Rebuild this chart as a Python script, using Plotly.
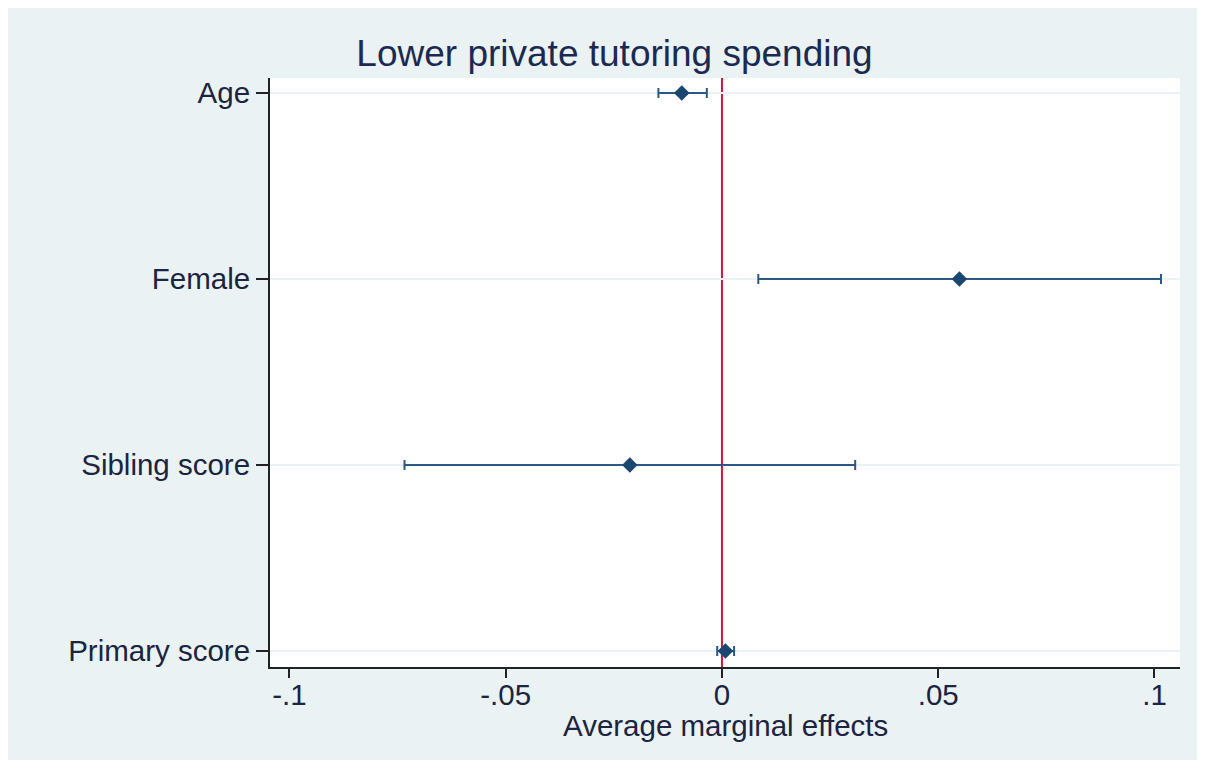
import plotly.graph_objects as go

# ---- data ----
categories = ["Age", "Female", "Sibling score", "Primary score"]
estimates = [-0.0093, 0.0549, -0.0213, 0.0008]
ci_lower = [-0.0147, 0.0084, -0.0734, -0.0011]
ci_upper = [-0.0035, 0.1015, 0.0308, 0.0028]
x_tick_vals = [-0.1, -0.05, 0, 0.05, 0.1]
x_tick_text = ["-.1", "-.05", "0", ".05", ".1"]
title_text = "Lower private tutoring spending"
x_title = "Average marginal effects"

# y positions: first category on top
y_pos = list(range(len(categories), 0, -1))

plus = [u - e for u, e in zip(ci_upper, estimates)]
minus = [e - l for e, l in zip(estimates, ci_lower)]

MARK = "#1a476f"
BAR = "#2c5887"
TXT = "#1b2440"
TITLE = "#1c2a52"
BG = "#eaf2f3"

fig = go.Figure()
fig.add_trace(go.Scatter(
    x=estimates, y=y_pos, mode="markers",
    marker=dict(symbol="diamond", size=12, color=MARK),
    error_x=dict(type="data", symmetric=False, array=plus, arrayminus=minus,
                 color=BAR, thickness=2, width=5),
    showlegend=False, hoverinfo="x+y",
))

W, H = 1197, 752
L, R, T, B = 262, 25, 70, 93
ph = H - T - B

fig.update_layout(
    width=W, height=H,
    margin=dict(l=L, r=R, t=T, b=B, pad=0),
    paper_bgcolor=BG, plot_bgcolor="white",
    font=dict(family="Liberation Sans, Arial, sans-serif", size=29.5, color=TXT),
    title=dict(text=title_text, font=dict(size=37, color=TITLE),
               x=606.5 / W, xref="container", xanchor="center",
               y=1 - 45 / H, yref="container", yanchor="middle"),
    xaxis=dict(range=[-0.1045, 0.1059], tickvals=x_tick_vals, ticktext=x_tick_text,
               showgrid=False, zeroline=False, showline=True, linecolor="#222222",
               linewidth=2, ticks="outside", ticklen=9, tickwidth=2, tickcolor="#222222",
               ticklabelstandoff=-8,
               tickfont=dict(size=29.5, color=TXT)),
    yaxis=dict(range=[0.914, 4.081], tickvals=y_pos, ticktext=categories,
               showgrid=True, gridcolor=BG, gridwidth=2, zeroline=False,
               showline=True, linecolor="#222222", linewidth=2,
               ticks="outside", ticklen=12, tickwidth=2, tickcolor="#222222",
               tickfont=dict(size=29.5, color=TXT)),
    annotations=[
        dict(text=x_title, xref="paper", yref="paper", x=0.5, y=(T + ph - 717) / ph,
             xanchor="center", yanchor="middle", showarrow=False,
             font=dict(size=29.5, color=TXT)),
    ],
    shapes=[
        # vertical reference line at zero
        dict(type="line", xref="x", yref="paper", x0=0, x1=0, y0=0, y1=1,
             line=dict(color="#d3143c", width=2), layer="between"),
    ],
)

fig.write_html("out.html")
